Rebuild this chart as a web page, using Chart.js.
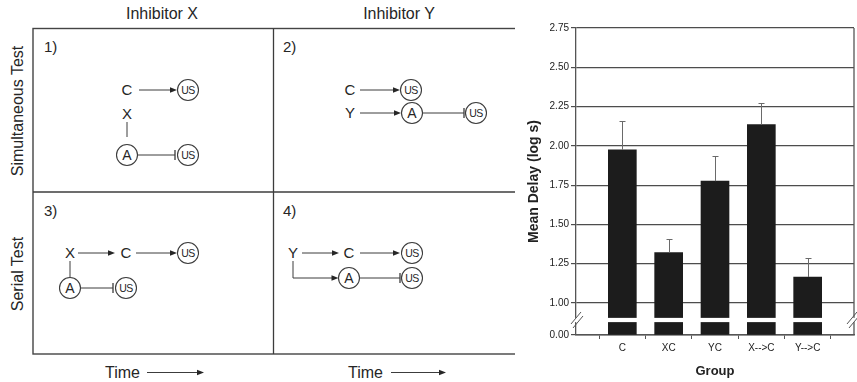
<!DOCTYPE html>
<html><head><meta charset="utf-8">
<script src="https://cdn.jsdelivr.net/npm/chart.js@4/dist/chart.umd.min.js"></script>
<style>
html,body{margin:0;padding:0;background:#fff;width:857px;height:382px;overflow:hidden;}
#diagram{position:absolute;left:0;top:0;}
#wrap{position:absolute;left:515px;top:0;width:342px;height:382px;}
</style></head><body>
<svg id="diagram" width="515" height="382" font-family="'Liberation Sans', Arial, sans-serif"></svg>
<div id="wrap"><canvas id="c" width="342" height="382"></canvas></div>
<script>
// ---- chart data ----
const groups = ['C', 'XC', 'YC', 'X-->C', 'Y-->C'];
const meanDelay = [1.975, 1.32, 1.775, 2.135, 1.165];
const errorTop = [2.155, 1.41, 1.935, 2.275, 1.285];
const yTickValues = [1.00, 1.25, 1.50, 1.75, 2.00, 2.25, 2.50, 2.75];
const yBreakBase = 0.796;      // axis position of the "0.00" label below the break
const breakLabel = '0.00';
const breakBand = [0.878, 0.905];

// ---- schematic (left panel) ----
const INK = '#262626', LINE = '#3c3c3c';
const svg = document.getElementById('diagram');
const NS = 'http://www.w3.org/2000/svg';
function el(tag, attrs, text) {
  const e = document.createElementNS(NS, tag);
  for (const k in attrs) e.setAttribute(k, attrs[k]);
  if (text != null) e.textContent = text;
  svg.appendChild(e); return e;
}
function label(x, y, s, size = 15, anchor = 'middle') {
  el('text', {x, y: y + size * 0.358, 'font-size': size, 'text-anchor': anchor, fill: INK}, s);
}
function line(x1, y1, x2, y2, w = 1) {
  el('line', {x1, y1, x2, y2, stroke: LINE, 'stroke-width': w});
}
function head(x, y) {
  el('polygon', {points: `${x},${y} ${x - 7},${y - 2.8} ${x - 7},${y + 2.8}`, fill: INK});
}
function arrow(x1, y, x2) { line(x1, y, x2 - 5, y); head(x2, y); }
function inhibit(x1, y, x2) { line(x1, y, x2, y); line(x2, y - 5, x2, y + 5, 1.3); }
function node(x, y, s) {
  el('circle', {cx: x, cy: y, r: 10.5, fill: '#fff', stroke: LINE, 'stroke-width': 1.1});
  if (s === 'US') el('text', {x, y: y + 3.8, 'font-size': 10.5, 'text-anchor': 'middle', 'letter-spacing': '-0.6', fill: INK}, s);
  else el('text', {x, y: y + 5, 'font-size': 14, 'text-anchor': 'middle', fill: INK}, s);
}
// frame
el('rect', {x: 33, y: 28.5, width: 485, height: 325.5, fill: 'none', stroke: '#444', 'stroke-width': 1.4});
line(273.5, 28.5, 273.5, 354, 1.3);
line(33, 192, 518, 192, 1.3);
// headers
label(162, 13.5, 'Inhibitor X', 16);
label(399, 13.5, 'Inhibitor Y', 16);
el('text', {transform: 'translate(23,111) rotate(-90)', 'font-size': 16, 'text-anchor': 'middle', fill: INK}, 'Simultaneous Test');
el('text', {transform: 'translate(23,274) rotate(-90)', 'font-size': 16, 'text-anchor': 'middle', fill: INK}, 'Serial Test');
// time arrows
label(105, 372, 'Time', 16, 'start'); line(147, 372.5, 197, 372.5); head(204, 372.5);
label(348, 372, 'Time', 16, 'start'); line(391, 372.5, 439, 372.5); head(446, 372.5);
// panel 1
label(44, 47, '1)', 15, 'start');
label(127, 90, 'C'); arrow(139, 90, 177); node(188, 90, 'US');
label(127, 114, 'X'); line(127, 122, 127, 137);
node(127, 155, 'A'); inhibit(138, 155, 175); node(188, 155, 'US');
// panel 2
label(283, 47, '2)', 15, 'start');
label(350, 90, 'C'); arrow(360, 90, 400); node(411, 90, 'US');
label(350, 113, 'Y'); arrow(360, 113, 401); node(412, 113, 'A');
inhibit(423, 113, 464); node(476, 113, 'US');
// panel 3
label(44, 211, '3)', 15, 'start');
label(70, 253, 'X'); arrow(78, 253, 115); label(126, 253, 'C'); arrow(136, 253, 177); node(188, 253, 'US');
line(70, 261, 70, 277.5);
node(70, 288, 'A'); inhibit(81, 288, 113); node(126, 288, 'US');
// panel 4
label(283, 211, '4)', 15, 'start');
label(293, 253, 'Y'); arrow(302, 253, 339); label(349, 253, 'C'); arrow(360, 253, 400); node(412, 253, 'US');
el('polyline', {points: '293,261 293,278 333,278', fill: 'none', stroke: LINE, 'stroke-width': 1}); head(338.5, 278);
node(349, 278, 'A'); inhibit(360, 278, 400); node(412, 278, 'US');

// ---- bar chart ----
const FAM = "'Liberation Sans', Arial, sans-serif";
const labels = ['', ...groups, ''];
const breakPlugin = {
  id: 'breakAndErrors',
  afterDatasetsDraw(chart) {
    const {ctx, chartArea: ca} = chart;
    const xs = chart.scales.x, ys = chart.scales.y;
    ctx.save();
    // right border
    ctx.strokeStyle = '#555'; ctx.lineWidth = 1.3;
    ctx.beginPath(); ctx.moveTo(ca.right, ca.top); ctx.lineTo(ca.right, ca.bottom); ctx.stroke();
    // white break band
    const yA = ys.getPixelForValue(breakBand[1]), yB = ys.getPixelForValue(breakBand[0]);
    ctx.fillStyle = '#fff';
    ctx.fillRect(ca.left - 2, yA, ca.right - ca.left + 4, yB - yA);
    // break marks
    ctx.strokeStyle = '#555'; ctx.lineWidth = 1;
    const yc = (yA + yB) / 2;
    [ca.left, ca.right - 2].forEach(x => {
      ctx.beginPath();
      ctx.moveTo(x - 5, yc + 4); ctx.lineTo(x + 5, yc - 8);
      ctx.moveTo(x - 3, yc + 8); ctx.lineTo(x + 7, yc - 4);
      ctx.stroke();
    });
    // error bars (upper)
    ctx.strokeStyle = '#6a6a6a'; ctx.lineWidth = 1;
    meanDelay.forEach((v, i) => {
      const x = Math.round(xs.getPixelForValue(i + 1)) + 0.5;
      const y0 = ys.getPixelForValue(v), y1 = Math.round(ys.getPixelForValue(errorTop[i])) + 0.5;
      ctx.beginPath();
      ctx.moveTo(x, y0); ctx.lineTo(x, y1);
      ctx.moveTo(x - 3, y1); ctx.lineTo(x + 3, y1);
      ctx.stroke();
    });
    ctx.restore();
  }
};
new Chart(document.getElementById('c'), {
  type: 'bar',
  data: {labels, datasets: [{
    data: [null, ...meanDelay, null],
    backgroundColor: '#1c1c1c', barThickness: 28, base: yBreakBase, borderWidth: 0
  }]},
  options: {
    responsive: false, animation: false, devicePixelRatio: 1,
    layout: {padding: {left: 0, right: 2, top: 28, bottom: 0}},
    plugins: {legend: {display: false}, tooltip: {enabled: false}},
    scales: {
      x: {
        offset: false,
        grid: {drawOnChartArea: false, tickLength: 4, color: '#555', lineWidth: 1},
        border: {display: true, color: '#555', width: 1.5},
        ticks: {font: {size: 10, family: FAM}, color: '#222', padding: 3, autoSkip: false, maxRotation: 0},
        title: {display: true, text: 'Group', font: {size: 13, weight: 'bold', family: FAM}, color: '#222', padding: {top: 0, bottom: 3}},
        afterFit(s) { s.height = 47; }
      },
      y: {
        min: yBreakBase, max: 2.75,
        afterBuildTicks(s) { s.ticks = [yBreakBase, ...yTickValues].map(v => ({value: v})); },
        ticks: {font: {size: 10, family: FAM}, color: '#222', padding: 2,
          callback: (v, i) => i === 0 ? breakLabel : Number(v).toFixed(2)},
        grid: {color: '#4d4d4d', lineWidth: 1.2, tickLength: 5},
        border: {display: true, color: '#555', width: 1.3},
        title: {display: true, text: 'Mean Delay (log s)', font: {size: 14, weight: 'bold', family: FAM}, color: '#222', padding: {top: 11, bottom: 0}},
        afterFit(s) { s.width = 61; }
      }
    }
  },
  plugins: [breakPlugin]
});
</script>
</body></html>
